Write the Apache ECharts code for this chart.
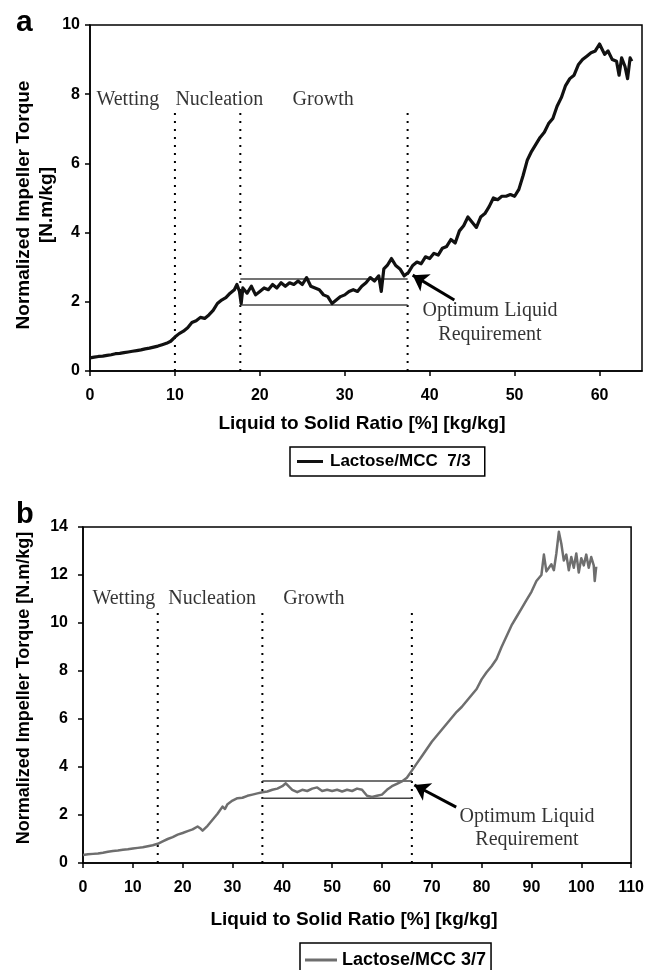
<!DOCTYPE html>
<html><head><meta charset="utf-8">
<script src="https://cdn.jsdelivr.net/npm/echarts@6/dist/echarts.min.js"></script>
<style>html,body{margin:0;padding:0;background:#fff}#c{width:647px;height:970px}</style>
</head><body><div id="c"></div>
<script>
// ---- Panel a: Lactose/MCC 7/3 ----
const torqueA = [
[0,0.38],[0.5,0.40],[1,0.42],[1.5,0.43],[2,0.45],[2.5,0.47],[3,0.50],[3.5,0.51],[4,0.53],[4.5,0.55],
[5,0.57],[5.5,0.59],[6,0.61],[6.5,0.64],[7,0.66],[7.5,0.69],[8,0.72],[8.5,0.76],[9,0.80],[9.5,0.86],
[10,0.98],[10.5,1.08],[11,1.15],[11.5,1.25],[12,1.40],[12.5,1.45],[13,1.55],[13.5,1.52],[14,1.62],[14.5,1.75],
[15,1.95],[15.5,2.05],[16,2.12],[16.5,2.25],[17,2.35],[17.3,2.50],[17.6,2.30],[17.8,1.95],[18,2.40],[18.5,2.25],
[19,2.45],[19.5,2.20],[20,2.30],[20.5,2.40],[21,2.35],[21.5,2.50],[22,2.40],[22.5,2.55],[23,2.45],[23.5,2.55],
[24,2.50],[24.5,2.60],[25,2.50],[25.5,2.70],[26,2.45],[26.5,2.40],[27,2.35],[27.5,2.20],[28,2.15],[28.5,1.95],
[29,2.05],[29.5,2.15],[30,2.20],[30.5,2.30],[31,2.35],[31.5,2.30],[32,2.45],[32.5,2.55],[33,2.70],[33.5,2.60],
[34,2.75],[34.3,2.30],[34.6,2.95],[35,3.05],[35.5,3.25],[36,3.05],[36.5,2.95],[37,2.75],[37.5,2.85],[38,3.05],
[38.5,3.15],[39,3.10],[39.5,3.30],[40,3.25],[40.5,3.40],[41,3.35],[41.5,3.55],[42,3.60],[42.5,3.80],[43,3.70],
[43.5,4.05],[44,4.20],[44.5,4.45],[45,4.30],[45.5,4.15],[46,4.45],[46.5,4.55],[47,4.75],[47.5,5.00],[48,4.95],
[48.5,5.05],[49,5.05],[49.5,5.10],[50,5.05],[50.5,5.25],[51,5.65],[51.5,6.10],[52,6.35],[52.5,6.55],[53,6.75],
[53.5,6.90],[54,7.15],[54.5,7.30],[55,7.65],[55.5,7.90],[56,8.25],[56.5,8.45],[57,8.55],[57.5,8.85],[58,9.00],
[58.5,9.10],[59,9.20],[59.5,9.25],[60,9.45],[60.3,9.30],[60.6,9.15],[61,9.25],[61.5,9.00],[62,8.95],[62.3,8.55],
[62.6,9.05],[63,8.80],[63.3,8.45],[63.6,9.05],[63.8,8.95]
];
const phaseBoundsA = [10, 17.7, 37.4];
const phaseTopA = 7.6;
const phaseLabelsA = [[0.7, 7.85, 'Wetting'], [10.0, 7.85, 'Nucleation'], [23.8, 7.85, 'Growth']];
const bandA = [1.91, 2.66];
const arrowA = [[42.9, 2.05], [38.0, 2.77]];
const noteA = [[47.1, 1.73, 'Optimum Liquid'], [47.1, 1.04, 'Requirement']];
const xRangeA = [0, 65, 10];
const yRangeA = [0, 10, 2];

// ---- Panel b: Lactose/MCC 3/7 ----
const torqueB = [
[0,0.33],[1,0.36],[2,0.38],[3,0.40],[4,0.43],[5,0.47],[6,0.50],[7,0.52],[8,0.55],[9,0.57],
[10,0.60],[11,0.63],[12,0.66],[13,0.70],[14,0.74],[15,0.80],[16,0.90],[17,1.00],[18,1.08],[19,1.18],
[20,1.25],[21,1.33],[22,1.40],[23,1.52],[23.5,1.45],[24,1.35],[25,1.55],[26,1.80],[27,2.05],[28,2.35],
[28.5,2.25],[29,2.45],[30,2.60],[31,2.70],[32,2.72],[33,2.80],[34,2.85],[35,2.90],[36,2.95],[37,2.98],
[38,3.05],[39,3.10],[40,3.20],[40.7,3.32],[41.5,3.15],[42,3.05],[43,2.95],[44,3.05],[45,3.00],[46,3.10],
[47,3.15],[48,3.00],[49,3.05],[50,3.00],[51,3.05],[52,2.98],[53,3.05],[54,3.00],[55,3.10],[56,3.05],
[57,2.80],[58,2.75],[59,2.80],[60,2.85],[61,3.05],[62,3.20],[63,3.30],[64,3.40],[65,3.55],[66,3.85],
[67,4.15],[68,4.45],[69,4.75],[70,5.05],[71,5.30],[72,5.55],[73,5.80],[74,6.05],[75,6.30],[76,6.50],
[77,6.75],[78,7.00],[79,7.25],[80,7.65],[81,7.95],[82,8.20],[83,8.50],[84,9.00],[85,9.45],[86,9.90],
[87,10.25],[88,10.60],[89,10.95],[90,11.30],[91,11.75],[92,12.00],[92.5,12.85],[93,12.15],[94,12.45],[94.5,12.20],
[95,12.90],[95.5,13.80],[96,13.30],[96.5,12.60],[97,12.85],[97.5,12.20],[98,12.75],[98.5,12.30],[99,12.90],[99.5,12.10],
[100,12.70],[100.5,12.40],[101,12.85],[101.5,12.30],[102,12.75],[102.5,12.40],[102.7,11.75],[103,12.35]
];
const phaseBoundsB = [15, 36, 66];
const phaseTopB = 10.5;
const phaseLabelsB = [[1.8, 11.0, 'Wetting'], [17.0, 11.0, 'Nucleation'], [40.1, 11.0, 'Growth']];
const bandB = [2.7, 3.42];
const arrowB = [[74.9, 2.33], [66.5, 3.25]];
const noteB = [[89.1, 1.92, 'Optimum Liquid'], [89.1, 0.96, 'Requirement']];
const xRangeB = [0, 110, 10];
const yRangeB = [0, 14, 2];

const nameA = 'Lactose/MCC  7/3';
const nameB = 'Lactose/MCC 3/7';
const xTitle = 'Liquid to Solid Ratio [%] [kg/kg]';
const yTitle = 'Normalized Impeller Torque';
const yUnit = '[N.m/kg]';

const SANS = "'Liberation Sans', Arial, sans-serif";
const SERIF = "'Liberation Serif', 'Times New Roman', serif";

function xAxisCfg(idx, r) {
  return {
    type: 'value', gridIndex: idx, min: r[0], max: r[1], interval: r[2],
    axisLine: { show: true, onZero: false, lineStyle: { color: '#000', width: 1.5 } },
    axisTick: { show: true, inside: false, length: 5, lineStyle: { color: '#000', width: 1.5 } },
    axisLabel: { show: true, margin: 17, fontFamily: SANS, fontWeight: 'bold', fontSize: 16, color: '#000',
      formatter: v => (v % r[2] === 0 ? String(v) : '') , showMaxLabel: r[1] % r[2] === 0 },
    splitLine: { show: false }
  };
}
function yAxisCfg(idx, r, margin) {
  return {
    type: 'value', gridIndex: idx, min: r[0], max: r[1], interval: r[2],
    axisLine: { show: true, onZero: false, lineStyle: { color: '#000', width: 1.5 } },
    axisTick: { show: true, inside: false, length: 5, lineStyle: { color: '#000', width: 1.5 } },
    axisLabel: { show: true, margin: margin, fontFamily: SANS, fontWeight: 'bold', fontSize: 16, color: '#000' },
    splitLine: { show: false }
  };
}

function panelSeries(idx, data, name, color, width, bounds, top, labels, band, arrow, notes) {
  const s = [];
  s.push({
    name: name, type: 'line', xAxisIndex: idx, yAxisIndex: idx, data: data,
    showSymbol: false, symbol: 'none', lineStyle: { color: color, width: width, join: 'round' },
    itemStyle: { color: color }, z: 5
  });
  bounds.forEach(b => {
    s.push({ type: 'line', xAxisIndex: idx, yAxisIndex: idx, data: [[b, 0], [b, top]], symbol: 'none',
      lineStyle: { color: '#000', width: 2, type: [2, 6] }, z: 3 });
  });
  band.forEach(v => {
    s.push({ type: 'line', xAxisIndex: idx, yAxisIndex: idx, data: [[bounds[1], v], [bounds[2], v]], symbol: 'none',
      lineStyle: { color: '#444', width: 1.5 }, z: 4 });
  });
  s.push({ type: 'scatter', xAxisIndex: idx, yAxisIndex: idx, symbolSize: 1,
    itemStyle: { color: 'rgba(0,0,0,0)' },
    data: labels.map(l => ({ value: [l[0], l[1]], name: l[2] })),
    label: { show: true, position: 'right', distance: 0, formatter: p => p.name,
      fontFamily: SERIF, fontSize: 20, color: '#000' }, z: 6 });
  s.push({ type: 'scatter', xAxisIndex: idx, yAxisIndex: idx, symbolSize: 1,
    itemStyle: { color: 'rgba(0,0,0,0)' },
    data: notes.map(l => ({ value: [l[0], l[1]], name: l[2] })),
    label: { show: true, position: 'inside', align: 'center', verticalAlign: 'middle', formatter: p => p.name,
      fontFamily: SERIF, fontSize: 20, color: '#000' }, z: 6 });
  s.push({ type: 'line', xAxisIndex: idx, yAxisIndex: idx, data: [], symbol: 'none',
    markLine: { silent: true, symbol: ['none', 'arrow'], symbolSize: 15,
      lineStyle: { color: '#000', width: 3, type: 'solid' }, label: { show: false },
      data: [[{ coord: arrow[0] }, { coord: arrow[1] }]] }, z: 7 });
  return s;
}

const chart = echarts.init(document.getElementById('c'), null, { renderer: 'canvas' });
chart.setOption({
  animation: false,
  backgroundColor: '#fff',
  grid: [
    { left: 90, top: 25, width: 552, height: 346, show: true, borderColor: '#000', borderWidth: 1.5, backgroundColor: 'transparent' },
    { left: 83, top: 527, width: 549, height: 336, show: true, borderColor: '#000', borderWidth: 1.5, backgroundColor: 'transparent' }
  ],
  xAxis: [xAxisCfg(0, xRangeA), xAxisCfg(1, xRangeB)],
  yAxis: [yAxisCfg(0, yRangeA, 10), yAxisCfg(1, yRangeB, 15)],
  legend: [
    { data: [nameA], left: 290, top: 447, orient: 'horizontal', icon: 'rect', itemWidth: 26, itemHeight: 3,
      padding: [6, 14, 6, 7], itemGap: 0, borderColor: '#000', borderWidth: 1.5,
      textStyle: { fontFamily: SANS, fontWeight: 'bold', fontSize: 17, color: '#000', padding: [0, 0, 0, 2] } },
    { data: [nameB], left: 300, top: 943, orient: 'horizontal', icon: 'rect', itemWidth: 32, itemHeight: 3,
      padding: [8, 5, 8, 5], itemGap: 0, borderColor: '#000', borderWidth: 1.5,
      textStyle: { fontFamily: SANS, fontWeight: 'bold', fontSize: 18, color: '#000' } }
  ],
  graphic: [
    { type: 'text', left: 16, top: 8, style: { text: 'a', font: "bold 30px " + SANS, fill: '#000' } },
    { type: 'text', left: 16, top: 500, style: { text: 'b', font: "bold 29px " + SANS, fill: '#000' } },
    { type: 'text', x: 35, y: 205, rotation: Math.PI / 2,
      style: { text: yTitle + '\n' + yUnit, font: "bold 19px " + SANS, fill: '#000', align: 'center', verticalAlign: 'middle', lineHeight: 23 } },
    { type: 'text', x: 24, y: 688, rotation: Math.PI / 2,
      style: { text: yTitle + ' ' + yUnit, font: "bold 18px " + SANS, fill: '#000', align: 'center', verticalAlign: 'middle' } },
    { type: 'text', x: 362, y: 424,
      style: { text: xTitle, font: "bold 19px " + SANS, fill: '#000', align: 'center', verticalAlign: 'middle' } },
    { type: 'text', x: 354, y: 920,
      style: { text: xTitle, font: "bold 19px " + SANS, fill: '#000', align: 'center', verticalAlign: 'middle' } }
  ],
  series: [].concat(
    panelSeries(0, torqueA, nameA, '#111', 3.2, phaseBoundsA, phaseTopA, phaseLabelsA, bandA, arrowA, noteA),
    panelSeries(1, torqueB, nameB, '#6e6e6e', 2.5, phaseBoundsB, phaseTopB, phaseLabelsB, bandB, arrowB, noteB)
  )
});
</script>
</body></html>
